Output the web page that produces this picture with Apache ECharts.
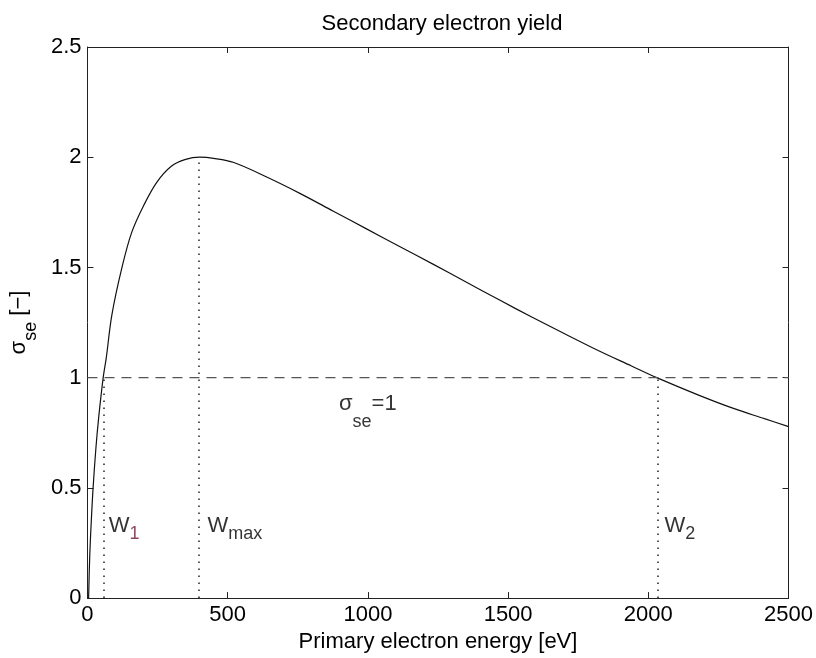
<!DOCTYPE html>
<html>
<head>
<meta charset="utf-8">
<script src="https://cdn.jsdelivr.net/npm/echarts@6/dist/echarts.min.js"></script>
<style>
  html, body { margin: 0; background: #fff; }
  #main { width: 816px; height: 658px; }
</style>
</head>
<body>
<div id="main"></div>
<script>
// primary electron energy [eV] and yield
const energy = [4, 8, 14, 20, 30, 40, 56, 67, 87, 123, 158, 200, 247, 300, 350, 400, 450, 522, 641, 759, 877, 995, 1113, 1232, 1350, 1468, 1586, 1705, 1823, 1940, 2030, 2177, 2296, 2414, 2500]
const seYield = [0, 0.19, 0.36, 0.5, 0.68, 0.82, 1.0, 1.09, 1.285, 1.5, 1.66, 1.78, 1.886, 1.96, 1.99, 2.0, 1.995, 1.976, 1.909, 1.835, 1.755, 1.675, 1.595, 1.515, 1.434, 1.353, 1.274, 1.197, 1.122, 1.053, 1.0, 0.922, 0.864, 0.814, 0.778]

// unity yield level
const unityLevel = 1

// W1, Wmax, W2 markers
const markerEnergy = [58, 398, 2033]
const markerTop = [1, 2, 1]

// annotation texts and their anchors (data coords)
const annoText = ['{m|W}{sr|1}', '{m|W}{s|max}', '{m|W}{s|2}', '{mm|σ}{ss|se}{mm|=1}']
const annoEnergy = [76, 428, 2058, 897]
const annoYield = [0.31, 0.31, 0.31, 0.84]

const font = 'Liberation Sans, Arial, Helvetica, sans-serif'
const axisColor = '#222'

var myChart = echarts.init(document.getElementById('main'))

const curve = energy.map((e, i) => [e, seYield[i]])

const markerLines = markerEnergy.map((e, i) => [
  { coord: [e, 0] },
  { coord: [e, markerTop[i]] },
])

var option = {
  animation: false,
  backgroundColor: '#fff',
  title: {
    text: 'Secondary electron yield',
    left: 437,
    textAlign: 'center',
    top: 8,
    textStyle: { fontFamily: font, fontSize: 22, fontWeight: 'normal', color: '#000' },
  },
  grid: { left: 85, right: 26, top: 47, bottom: 56 },
  xAxis: [
    {
      type: 'value',
      min: 0,
      max: 2500,
      interval: 500,
      axisLine: { show: true, onZero: false, lineStyle: { color: axisColor, width: 1 } },
      axisTick: { show: true, inside: true, length: 6, lineStyle: { color: axisColor } },
      axisLabel: {
        margin: 6,
        color: '#000',
        fontSize: 22,
        fontFamily: font,
        formatter: (v) => String(v),
      },
      splitLine: { show: false },
      name: 'Primary electron energy [eV]',
      nameLocation: 'middle',
      nameGap: 20,
      nameTextStyle: { fontFamily: font, fontSize: 22, color: '#000', verticalAlign: 'top' },
    },
    {
      type: 'value',
      position: 'top',
      min: 0,
      max: 2500,
      interval: 500,
      axisLine: { show: true, onZero: false, lineStyle: { color: axisColor, width: 1 } },
      axisTick: { show: true, inside: true, length: 6, lineStyle: { color: axisColor } },
      axisLabel: { show: false },
      splitLine: { show: false },
    },
  ],
  yAxis: [
    {
      type: 'value',
      min: 0,
      max: 2.5,
      interval: 0.5,
      axisLine: { show: true, onZero: false, lineStyle: { color: axisColor, width: 1 } },
      axisTick: { show: true, inside: true, length: 6, lineStyle: { color: axisColor } },
      axisLabel: { margin: 6, color: '#000', fontSize: 22, fontFamily: font },
      splitLine: { show: false },
      name: '{a|σ}{b|se}{a| [−]}',
      nameLocation: 'middle',
      nameGap: 42,
      nameTextStyle: {
        color: '#000',
        rich: {
          a: { fontFamily: font, fontSize: 22, color: '#000', padding: [0, 0, 12, 0] },
          b: { fontFamily: font, fontSize: 18, color: '#000', padding: [12, 0, 0, 0] },
        },
      },
    },
    {
      type: 'value',
      position: 'right',
      min: 0,
      max: 2.5,
      interval: 0.5,
      axisLine: { show: true, onZero: false, lineStyle: { color: axisColor, width: 1 } },
      axisTick: { show: true, inside: true, length: 6, lineStyle: { color: axisColor } },
      axisLabel: { show: false },
      splitLine: { show: false },
    },
  ],
  series: [
    {
      name: 'yield',
      type: 'line',
      data: curve,
      showSymbol: false,
      smooth: 0.35,
      lineStyle: { color: '#111', width: 1.2 },
      silent: true,
      markLine: {
        silent: true,
        symbol: ['none', 'none'],
        label: { show: false },
        lineStyle: { color: '#222', width: 1.5, type: [1.5, 5.5] },
        data: markerLines,
      },
    },
    {
      name: 'unity',
      type: 'line',
      data: [[0, unityLevel], [2500, unityLevel]],
      showSymbol: false,
      silent: true,
      lineStyle: { color: '#555', width: 1.3, type: [10, 7] },
    },
    {
      name: 'labels',
      type: 'scatter',
      symbolSize: 0,
      silent: true,
      data: annoText.map((t, i) => ({ value: [annoEnergy[i], annoYield[i]], text: t })),
      label: {
        show: true,
        position: 'inside',
        align: 'left',
        verticalAlign: 'middle',
        color: '#000',
        textBorderWidth: 0,
        formatter: (p) => p.data.text,
        rich: {
          m: { fontFamily: font, fontSize: 22, color: '#000', padding: [0, 0, 8, 0] },
          s: { fontFamily: font, fontSize: 18, color: '#000', padding: [8, 0, 0, 0] },
          sr: { fontFamily: font, fontSize: 18, color: '#6e1838', padding: [8, 0, 0, 0] },
          mm: { fontFamily: font, fontSize: 22, color: '#000', padding: [0, 0, 18, 0] },
          ss: { fontFamily: font, fontSize: 18, color: '#000', padding: [18, 0, 0, 0] },
        },
      },
    },
  ],
}

option && myChart.setOption(option)
</script>
</body>
</html>
